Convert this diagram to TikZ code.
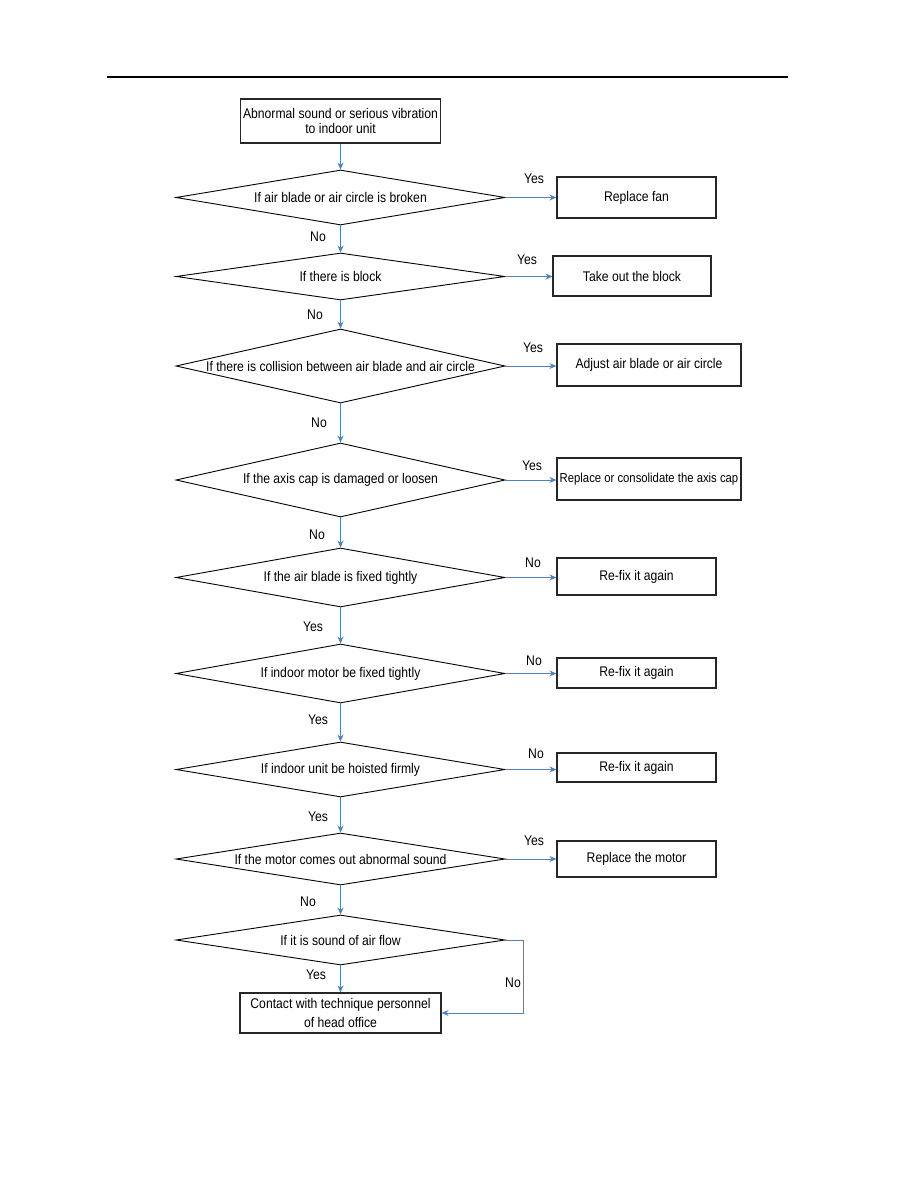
\documentclass[tikz,border=0pt]{standalone}
\usepackage{fontspec}
\setmainfont{Liberation Sans}
\newfontfamily\narrowsans[FakeStretch=0.87]{Liberation Sans}
\usetikzlibrary{shapes.geometric,arrows.meta}
\definecolor{arrowblue}{RGB}{79,129,189}
\newcommand\ff{\narrowsans\fontsize{14pt}{15pt}\selectfont}
\tikzset{
  dia/.style={diamond, draw=black, line width=0.9pt, inner sep=0pt, font=\ff},
  stepbox/.style={rectangle, draw=black!85, line width=1.2pt, inner sep=0pt, font=\ff, align=center},
  lbl/.style={inner sep=0pt, font=\ff},
  flow/.style={draw=arrowblue, line width=0.9pt, -{Stealth[length=7pt,width=6pt]}},
}
\begin{document}
\begin{tikzpicture}[x=1pt,y=-1pt]
\useasboundingbox (0,0) rectangle (918,1188);
\draw[line width=1.3pt] (107,77) -- (788,77);

% main column
\node[stepbox, minimum width=200pt, minimum height=44pt] (start) at (340.5,121) {Abnormal sound or serious vibration\\to indoor unit};
\node[dia, minimum width=329pt, minimum height=55pt] (d1) at (340.5,197.5) {\makebox[0pt]{If air blade or air circle is broken}};
\node[dia, minimum width=329pt, minimum height=47pt] (d2) at (340.5,276.5) {\makebox[0pt]{If there is block}};
\node[dia, minimum width=329pt, minimum height=74pt] (d3) at (340.5,366) {\makebox[0pt]{If there is collision between air blade and air circle}};
\node[dia, minimum width=329pt, minimum height=74pt] (d4) at (340.5,480) {\makebox[0pt]{\raisebox{3pt}{If the axis cap is damaged or loosen}}};
\node[dia, minimum width=329pt, minimum height=59pt] (d5) at (340.5,577.5) {\makebox[0pt]{If the air blade is fixed tightly}};
\node[dia, minimum width=329pt, minimum height=59pt] (d6) at (340.5,673.5) {\makebox[0pt]{\raisebox{2pt}{If indoor motor be fixed tightly}}};
\node[dia, minimum width=329pt, minimum height=55pt] (d7) at (340.5,769.5) {\makebox[0pt]{If indoor unit be hoisted firmly}};
\node[dia, minimum width=329pt, minimum height=52pt] (d8) at (340.5,859) {\makebox[0pt]{If the motor comes out abnormal sound}};
\node[dia, minimum width=329pt, minimum height=50pt] (d9) at (340.5,940) {\makebox[0pt]{If it is sound of air flow}};
\node[stepbox, minimum width=201pt, minimum height=40pt, font=\narrowsans\fontsize{14pt}{19pt}\selectfont] (endbox) at (340.5,1013) {Contact with technique personnel\\of head office};

% right column
\node[stepbox, minimum width=159pt, minimum height=41pt] (b1) at (636.5,197.5) {Replace fan};
\node[stepbox, minimum width=158pt, minimum height=40pt] (b2) at (632,276) {Take out the block};
\node[stepbox, minimum width=184pt, minimum height=42pt] (b3) at (649,365) {Adjust air blade or air circle};
\node[stepbox, minimum width=184pt, minimum height=42pt] (b4) at (649,479) {\makebox[0pt]{\fontsize{13pt}{14pt}\selectfont Replace or consolidate the axis cap}};
\node[stepbox, minimum width=159pt, minimum height=37pt] (b5) at (636.5,576.5) {Re-fix it again};
\node[stepbox, minimum width=159pt, minimum height=30pt] (b6) at (636.5,673) {Re-fix it again};
\node[stepbox, minimum width=159pt, minimum height=29pt] (b7) at (636.5,767.5) {Re-fix it again};
\node[stepbox, minimum width=159pt, minimum height=36pt] (b8) at (636.5,859) {Replace the motor};

% vertical connectors
\draw[flow] (start.south) -- (d1.north);
\draw[flow] (d1.south) -- (d2.north);
\draw[flow] (d2.south) -- (d3.north);
\draw[flow] (d3.south) -- (d4.north);
\draw[flow] (d4.south) -- (d5.north);
\draw[flow] (d5.south) -- (d6.north);
\draw[flow] (d6.south) -- (d7.north);
\draw[flow] (d7.south) -- (d8.north);
\draw[flow] (d8.south) -- (d9.north);
\draw[flow] (d9.south) -- (endbox.north);

% horizontal connectors
\draw[flow] (d1.east) -- (b1.west |- d1.east);
\draw[flow] (d2.east) -- (b2.west |- d2.east);
\draw[flow] (d3.east) -- (b3.west |- d3.east);
\draw[flow] (d4.east) -- (b4.west |- d4.east);
\draw[flow] (d5.east) -- (b5.west |- d5.east);
\draw[flow] (d6.east) -- (b6.west |- d6.east);
\draw[flow] (d7.east) -- (b7.west |- d7.east);
\draw[flow] (d8.east) -- (b8.west |- d8.east);
\coordinate (c9) at (523,940);
\draw[flow] (d9.east) -- (c9) |- (endbox.east);

% labels
\node[lbl] (ly1) at (534,179) {Yes};
\node[lbl] (ly2) at (527,260) {Yes};
\node[lbl] (ly3) at (533,348) {Yes};
\node[lbl] (ly4) at (532,466) {Yes};
\node[lbl] (ln5) at (533,563) {No};
\node[lbl] (ln6) at (534,661) {No};
\node[lbl] (ln7) at (536,754) {No};
\node[lbl] (ly8) at (534,841) {Yes};

\node[lbl] (lv1) at (318,237) {No};
\node[lbl] (lv2) at (315,315) {No};
\node[lbl] (lv3) at (319,423) {No};
\node[lbl] (lv4) at (317,535) {No};
\node[lbl] (lv5) at (313,627) {Yes};
\node[lbl] (lv6) at (318,720) {Yes};
\node[lbl] (lv7) at (318,817) {Yes};
\node[lbl] (lv8) at (308,902) {No};
\node[lbl] (lv9) at (316,975) {Yes};
\node[lbl] (ln9) at (513,983) {No};
\end{tikzpicture}
\end{document}
